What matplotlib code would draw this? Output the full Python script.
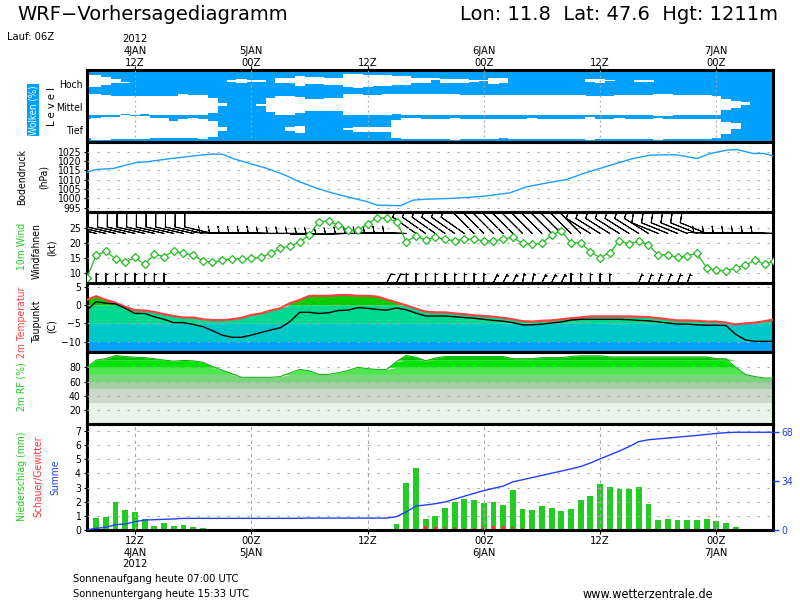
import numpy as np
import matplotlib
matplotlib.use("Agg")
import matplotlib.pyplot as plt
import matplotlib.transforms as mtransforms

plt.rcParams['font.family'] = ['DejaVu Sans']
plt.rcParams['font.stretch'] = 'condensed'

# ---------------- data ----------------
HOURS = list(range(7, 79))          # hours after 4 Jan 2012 00Z

TICK_HOURS = [12, 24, 36, 48, 60, 72]
TOP_LABELS = [["2012", "4JAN", "12Z"], ["5JAN", "00Z"], ["12Z"],
              ["6JAN", "00Z"], ["12Z"], ["7JAN", "00Z"]]
BOTTOM_LABELS = [["12Z", "4JAN", "2012"], ["00Z", "5JAN"], ["12Z"],
                 ["00Z", "6JAN"], ["12Z"], ["00Z", "7JAN"]]

# cloud layers: upper / lower edge of white cloud band (level units 0..3)
CLOUD_LEVELS = ["Tief", "Mittel", "Hoch"]
HOCH_TOP = [2.81, 2.81, 2.70, 2.61, 2.51, None, None, None, None, None,
            None, None, None, None, None, 2.56, 2.61, 2.56, 2.56, None,
            2.66, 2.66, 2.74, 2.70, 2.70, 2.66, 2.66, 2.84, 2.84, 2.81,
            2.77, 2.80, 2.73, 2.73, 2.66, 2.66, 2.66, 2.61, 2.61, 2.61,
            2.56, 2.56, 2.66, 2.66, None, None, None, None, None, None,
            None, None, 2.61, 2.61, 2.59, None, None, 2.59, 2.59, None,
            None, None, None, None, None, None, None, None, None, None,
            None, None]
HOCH_BOT = [2.27, 2.27, 2.39, 2.44, 2.47, None, None, None, None, None,
            None, None, None, None, None, 2.50, 2.47, 2.50, 2.50, None,
            2.44, 2.44, 2.34, 2.41, 2.41, 2.37, 2.37, 2.27, 2.24, 2.27,
            2.34, 2.34, 2.39, 2.39, 2.44, 2.44, 2.56, 2.44, 2.44, 2.44,
            2.49, 2.53, 2.41, 2.44, None, None, None, None, None, None,
            None, None, 2.50, 2.46, 2.53, None, None, 2.50, 2.50, None,
            None, None, None, None, None, None, None, None, None, None,
            None, None]
MITTEL_TOP = [1.99, 1.99, 1.96, 1.93, 1.93, 1.90, 1.90, 1.91, 1.90, 1.93,
              1.99, 1.96, 1.96, 1.81, 1.63, None, None, None, 1.59, 1.81,
              1.91, 1.91, 1.87, 1.77, 1.77, 1.81, 1.84, 1.99, 1.99, 1.96,
              1.96, 1.99, 2.01, 2.01, 1.99, 1.99, 1.99, 1.99, 1.99, 1.96,
              1.96, 1.96, 1.96, 1.96, 1.96, 1.96, 1.96, 1.96, 1.96, 1.96,
              1.96, 1.96, 1.90, 1.91, 1.91, 1.96, 1.96, 1.96, 1.96, 1.99,
              1.99, 1.96, 1.96, 1.96, 1.96, 1.91, 1.77, 1.70, 1.67, None,
              None, None]
MITTEL_BOT = [1.13, 1.10, 1.13, 1.13, 1.16, 1.13, 1.16, 1.13, 1.13, 1.10,
              1.13, 1.10, 1.10, 1.20, 1.49, None, None, None, 1.50, 1.24,
              1.13, 1.13, 1.21, 1.30, 1.30, 1.27, 1.27, 1.13, 1.10, 1.10,
              1.10, 1.10, 1.16, 1.13, 1.13, 1.13, 1.13, 1.13, 1.13, 1.10,
              1.10, 1.10, 1.10, 1.10, 1.10, 1.13, 1.13, 1.13, 1.13, 1.13,
              1.13, 1.13, 1.13, 1.13, 1.13, 1.13, 1.13, 1.13, 1.13, 1.07,
              1.07, 1.13, 1.13, 1.13, 1.13, 1.13, 1.34, 1.39, 1.53, None,
              None, None]
TIEF_TOP = [0.96, 0.99, 1.01, 1.01, 1.10, 1.06, 1.06, 0.99, 0.99, 0.87,
            0.96, 0.99, 0.96, 0.84, 0.59, None, None, None, None, None,
            None, 0.59, 0.67, None, None, None, None, 0.56, 0.59, 0.59,
            0.59, 0.59, 0.91, 0.99, 0.99, 0.96, 0.96, 0.96, 0.99, 0.96,
            0.96, 0.96, 0.94, 0.96, 0.96, 0.96, 0.99, 0.96, 0.96, 0.96,
            0.96, 0.96, 1.01, 0.96, 0.96, 0.99, 0.96, 0.96, 0.96, 0.97,
            0.96, 0.96, 0.96, 0.96, 0.96, 0.94, 0.80, 0.76, None, None,
            None, None]
TIEF_BOT = [0.13, 0.07, 0.07, 0.10, 0.10, 0.10, 0.10, 0.13, 0.16, 0.16,
            0.13, 0.13, 0.10, 0.20, 0.44, None, None, None, None, None,
            None, 0.44, 0.34, None, None, None, None, 0.49, 0.41, 0.41,
            0.41, 0.41, 0.13, 0.10, 0.10, 0.10, 0.10, 0.10, 0.07, 0.10,
            0.10, 0.10, 0.10, 0.13, 0.10, 0.10, 0.10, 0.10, 0.10, 0.10,
            0.10, 0.10, 0.06, 0.10, 0.10, 0.10, 0.10, 0.10, 0.10, 0.07,
            0.10, 0.10, 0.10, 0.10, 0.10, 0.13, 0.30, 0.51, None, None,
            None, None]

# surface pressure (hPa)
P_HOURS = [7, 8, 9.8, 11.1, 12.2, 13.2, 15.3, 17.3, 19.1, 20.1, 21.1, 22.1,
           23.8, 25.6, 27.3, 29.0, 30.8, 32.5, 34.6, 36.0, 37.0, 39.4, 40.7,
           42.1, 44.5, 46.2, 48.0, 50.7, 52.4, 54.2, 56.6, 58.3, 60.0, 61.7,
           63.4, 65.2, 66.9, 67.9, 70.0, 71.4, 73.1, 74.1, 75.8, 76.9, 77.9]
PRESSURE = [1013.9, 1015.5, 1016.1, 1017.9, 1019.3, 1019.6, 1021.1, 1022.3,
            1023.4, 1023.8, 1023.6, 1021.4, 1018.8, 1016.1, 1012.9, 1008.9,
            1005.4, 1002.7, 1000.0, 998.2, 996.4, 996.1, 999.1, 999.6,
            1000.0, 1000.5, 1001.2, 1003.0, 1006.2, 1008.0, 1010.2, 1013.4,
            1016.1, 1018.8, 1021.4, 1023.2, 1023.4, 1023.4, 1021.4, 1024.1,
            1025.9, 1026.2, 1024.1, 1024.1, 1022.7]
P_TICKS = [995, 1000, 1005, 1010, 1015, 1020, 1025]

# 10 m wind speed (kt)
WIND_SPEED = [8.3, 16.1, 17.4, 14.8, 13.7, 15.3, 13.0, 16.3, 15.6, 17.4,
              16.8, 16.1, 14.2, 13.7, 14.4, 14.8, 14.8, 15.0, 15.3, 16.7,
              18.4, 19.1, 20.4, 22.8, 27.2, 27.4, 26.0, 24.4, 24.4, 26.4,
              28.6, 28.3, 27.2, 20.6, 22.4, 21.1, 22.0, 21.3, 20.9, 21.4,
              21.4, 20.8, 20.8, 21.4, 22.0, 20.0, 19.7, 20.0, 22.8, 24.1,
              20.2, 20.2, 17.2, 15.2, 16.9, 20.9, 19.7, 20.8, 19.4, 16.2,
              16.2, 15.3, 15.9, 16.7, 11.9, 11.1, 10.8, 11.9, 12.8, 14.4,
              13.0, 14.1]
W_TICKS = [10, 15, 20, 25]

# wind vanes, upper row (direction wind comes from, deg; barb speed)
BARB_DIR = [283, 283, 283, 283, 283, 283, 283, 283, 283, 283,
            283, 283, 283, 283, 272, 272, 272, 272, 272, 272,
            270, 270, 270, 270, 268, 268, 268, 268, 270, 270,
            270, 272, 272, 272, 305, 305, 305, 305, 305, 305,
            315, 315, 315, 315, 315, 315, 315, 315, 315, 315,
            315, 315, 302, 302, 302, 302, 302, 302, 302, 292,
            292, 292, 292, 292, 292, 272, 272, 272, 272, 272,
            272, 272]
BARB_SPEED = [10, 10, 10, 10, 10, 10, 10, 10, 10, 10,
              10, 10, 10, 10, 5, 5, 5, 5, 5, 5,
              5, 5, 5, 5, 5, 5, 5, 5, 5, 5,
              5, 5, 5, 5, 10, 10, 10, 10, 10, 10,
              10, 10, 10, 10, 10, 10, 10, 10, 10, 10,
              10, 10, 10, 10, 10, 10, 10, 10, 10, 10,
              10, 10, 10, 10, 10, 5, 5, 5, 5, 5,
              5, 5]
# wind vanes, lower row
LOW_BARB_HOURS = [8, 9, 10, 11, 12, 13, 14, 15, 38, 39, 40, 41, 42, 43, 44,
                  45, 46, 47, 48, 49, 50, 51, 52, 53, 54, 55, 56, 57, 58, 59,
                  60, 61, 64, 65, 66, 67, 68, 69]
LOW_BARB_DIR = [0, 0, 0, 0, 0, 0, 0, 0, 25, 25, 0, 0, 0, 0, 0,
                0, 0, 0, 0, 25, 25, 25, 10, 10, 25, 25, 25, 0, 0, 0,
                0, 0, 20, 20, 20, 20, 20, 20]
LOW_BARB_SPEED = [5, 5, 5, 5, 5, 5, 5, 5, 10, 10, 5, 5, 5, 5, 5,
                  5, 5, 5, 5, 5, 5, 5, 5, 5, 5, 5, 5, 5, 5, 5,
                  5, 5, 5, 5, 5, 5, 5, 5]

# 2 m temperature and dew point (C)
TEMP = [1.4, 2.4, 1.4, 0.6, -0.5, -1.4, -1.5, -1.9, -2.5, -3.0,
        -3.4, -3.4, -3.9, -4.1, -4.1, -3.9, -3.5, -2.7, -2.3, -1.5,
        -0.9, 0.5, 1.4, 2.5, 2.5, 2.5, 2.7, 2.7, 2.5, 2.5,
        2.3, 1.5, 0.7, -0.1, -1.0, -1.8, -2.0, -2.0, -2.3, -2.5,
        -2.8, -3.0, -3.2, -3.5, -3.9, -4.4, -4.5, -4.3, -4.2, -3.9,
        -3.6, -3.4, -3.1, -3.1, -3.1, -3.1, -3.1, -3.2, -3.3, -3.6,
        -3.9, -4.2, -4.2, -4.3, -4.5, -4.5, -4.8, -5.3, -5.0, -4.8,
        -4.4, -3.9]
DEWPOINT = [-1.5, 0.9, 0.5, 0.3, -0.9, -2.3, -2.3, -3.2, -3.9, -4.8,
            -4.8, -5.3, -5.9, -7.0, -8.2, -8.8, -8.8, -8.2, -7.5, -6.8,
            -6.2, -4.5, -2.0, -2.0, -2.3, -2.1, -1.5, -1.4, -0.7, -0.9,
            -1.2, -1.4, -0.8, -1.3, -2.2, -3.0, -3.0, -3.0, -3.2, -3.4,
            -3.6, -3.9, -4.2, -4.4, -4.8, -5.4, -5.4, -5.2, -4.9, -4.6,
            -4.1, -3.9, -3.9, -3.9, -3.9, -3.9, -4.0, -4.2, -4.3, -4.6,
            -4.9, -5.2, -5.2, -5.4, -5.5, -5.5, -5.6, -8.0, -9.5, -9.9,
            -9.9, -9.9]
T_TICKS = [-10, -5, 0, 5]
T_BANDS = [(-13, -10, '#00A0FF'), (-10, -5, '#00C8C8'),
           (-5, 0, '#00D890'), (0, 7, '#00CC00')]

# 2 m relative humidity (%)
RH = [80, 90, 92, 96.5, 95, 94, 93.5, 92, 90, 88.5,
      89.5, 89, 87, 81, 76, 71, 66, 66, 66, 66,
      67, 72, 77, 75, 70, 70, 72.5, 75.5, 80, 78,
      77, 77, 88, 96.5, 94, 89, 93, 95, 95, 95,
      95, 95, 95, 95, 92, 92, 92, 93.5, 93.5, 93.5,
      95, 96, 96, 96, 94.5, 94.5, 94.5, 94.5, 94.5, 94.5,
      94.5, 94.5, 94.5, 94.5, 94.5, 92, 92, 80, 70, 67,
      65, 65]
RH_TICKS = [20, 40, 60, 80]
RH_BANDS = [(0, 30, '#EAF5EA'), (30, 50, '#CAD9CA'), (50, 60, '#A6CDA6'),
            (60, 70, '#7AD67A'), (70, 80, '#4FE64F'), (80, 90, '#00E400'),
            (90, 101, '#00C800')]

# precipitation (mm/h), showers (mm/h), accumulated sum (mm)
PRECIP = [0.3, 0.85, 0.92, 2.0, 1.42, 1.28, 0.78, 0.28, 0.5, 0.28,
          0.35, 0.2, 0.12, 0, 0, 0, 0, 0, 0, 0,
          0, 0, 0.1, 0.1, 0, 0, 0, 0, 0, 0,
          0, 0, 0.45, 3.35, 4.39, 0.78, 0.99, 1.56, 1.98, 2.19,
          2.12, 1.91, 1.98, 1.77, 2.83, 1.49, 1.42, 1.70, 1.56, 1.34,
          1.49, 2.12, 2.41, 3.25, 3.04, 2.9, 2.9, 3.04, 1.84, 0.71,
          0.78, 0.71, 0.71, 0.71, 0.78, 0.64, 0.5, 0.2, 0, 0,
          0, 0]
SHOWER = [0, 0, 0, 0, 0, 0, 0, 0, 0, 0,
          0, 0, 0, 0, 0, 0, 0, 0, 0, 0,
          0, 0, 0, 0, 0, 0, 0, 0, 0, 0,
          0, 0, 0, 0, 0, 0.28, 0.2, 0.2, 0.2, 0.14,
          0.14, 0.2, 0.28, 0.28, 0.2, 0.14, 0, 0, 0, 0,
          0, 0, 0, 0, 0.1, 0.1, 0, 0, 0, 0,
          0, 0, 0, 0, 0, 0, 0, 0, 0, 0,
          0, 0]
SUMME = [0, 1.2, 1.9, 3.7, 4.2, 5.8, 6.9, 7.2, 7.4, 7.7,
         8.1, 8.1, 8.1, 8.1, 8.1, 8.1, 8.1, 8.1, 8.1, 8.1,
         8.1, 8.1, 8.2, 8.3, 8.3, 8.3, 8.3, 8.3, 8.3, 8.3,
         8.3, 8.3, 9.3, 12.6, 16.7, 17.4, 18.3, 19.5, 21.5, 23.5,
         25.5, 27.4, 29.0, 30.5, 33.5, 35.0, 36.5, 38.0, 39.5, 41.0,
         42.5, 44.2, 46.6, 49.5, 52.2, 55.0, 58.0, 61.5, 62.8, 63.4,
         64.0, 64.6, 65.2, 65.8, 66.5, 67.2, 67.7, 68.0, 68.0, 68.0,
         68.0, 68.0]
N_TICKS = [0, 1, 2, 3, 4, 5, 6, 7]
SUM_TICKS = [0, 34, 68]

# ---------------- figure ----------------
W_PX, H_PX = 800, 600
fig = plt.figure(figsize=(8, 6), dpi=100)
fig.patch.set_facecolor('white')

X0, X1 = 87, 773
XLIM = (7.05, 77.85)


def panel(top, bot):
    return fig.add_axes([X0 / W_PX, 1 - bot / H_PX, (X1 - X0) / W_PX, (bot - top) / H_PX])


def ftext(xpx, ypx, s, **kw):
    kw.setdefault('ha', 'center')
    kw.setdefault('va', 'center')
    fig.text(xpx / W_PX, 1 - ypx / H_PX, s, **kw)


ax_c = panel(70, 141.5)
ax_p = panel(141.5, 211.5)
ax_w = panel(211.5, 283)
ax_t = panel(283, 352)
ax_r = panel(352, 423.5)
ax_n = panel(423.5, 530)
axes = [ax_c, ax_p, ax_w, ax_t, ax_r, ax_n]

GRID = dict(color='#A8A8A8', linestyle=(0, (2, 7)), linewidth=0.8)
TICKFS = 7.5
for ax in axes:
    ax.set_xlim(*XLIM)
    for sp in ax.spines.values():
        sp.set_linewidth(2.2)
        sp.set_color('black')
    ax.set_axisbelow(False)
    ax.tick_params(axis='y', labelsize=TICKFS, length=2.5, width=0.8, pad=2)
    ax.set_xticks([])

# ---- clouds ----
ax_c.set_facecolor('#00A0FF')
for top, bot in ((HOCH_TOP, HOCH_BOT), (MITTEL_TOP, MITTEL_BOT), (TIEF_TOP, TIEF_BOT)):
    hs = [h for h, t in zip(HOURS, top) if t is not None]
    tt = np.array([t for t in top if t is not None])
    bb = np.array([b for b in bot if b is not None])
    ax_c.bar(hs, tt - bb, bottom=bb, width=1.05, color='white', linewidth=0, zorder=1)
ax_c.set_ylim(0, 3)
ax_c.set_yticks([0.48, 1.45, 2.41])
ax_c.set_yticklabels(CLOUD_LEVELS, fontsize=7.5)
ax_c.tick_params(axis='y', length=0, pad=3)
ax_c.set_xticks(TICK_HOURS)
ax_c.tick_params(axis='x', top=True, bottom=False, labeltop=False, labelbottom=False,
                 direction='out', length=3, width=0.8)
ax_c.grid(axis='x', color='#A8A8A8', linestyle=(0, (1.5, 2.5)), linewidth=0.9)

# ---- pressure ----
ax_p.plot(P_HOURS, PRESSURE, color='#1A9FFF', lw=1.0, zorder=3)
ax_p.set_ylim(993.0, 1030.5)
ax_p.set_yticks(P_TICKS)
ax_p.grid(axis='y', **GRID)

# ---- wind ----
d_up = np.deg2rad(BARB_DIR)
s_up = np.array(BARB_SPEED, dtype=float)
ax_w.barbs(HOURS, [23.3] * len(HOURS), -s_up * np.sin(d_up), -s_up * np.cos(d_up),
           length=6.4, linewidth=0.7, color='black', zorder=2,
           sizes=dict(height=0.45, spacing=0.14, width=0.2))
d_lo = np.deg2rad(LOW_BARB_DIR)
s_lo = np.array(LOW_BARB_SPEED, dtype=float)
ax_w.barbs(LOW_BARB_HOURS, [6.9] * len(LOW_BARB_HOURS), -s_lo * np.sin(d_lo),
           -s_lo * np.cos(d_lo), length=3.7, linewidth=0.7, color='black', zorder=2)
ax_w.plot(HOURS, WIND_SPEED, color='#22BB22', lw=0.9, marker='D', markersize=4.2,
          markerfacecolor='white', markeredgecolor='#22BB22', markeredgewidth=0.9, zorder=4)
ax_w.set_ylim(6.8, 30.6)
ax_w.set_yticks(W_TICKS)
ax_w.grid(axis='y', **GRID)

# ---- temperature ----
T = np.array(TEMP)
for lo, hi, col in T_BANDS:
    ax_t.fill_between(HOURS, lo, np.clip(T, lo, hi), color=col, linewidth=0, zorder=1)
ax_t.plot(HOURS, TEMP, color='#FF4040', lw=1.6, zorder=3)
ax_t.plot(HOURS, DEWPOINT, color='black', lw=1.0, zorder=3)
ax_t.set_ylim(-12.8, 6.0)
ax_t.set_yticks(T_TICKS)
ax_t.grid(axis='y', **GRID)

# ---- relative humidity ----
R = np.array(RH, dtype=float)
for lo, hi, col in RH_BANDS:
    ax_r.fill_between(HOURS, lo, np.clip(R, lo, hi), color=col, linewidth=0, zorder=1)
ax_r.plot(HOURS, RH, color='#1FAF1F', lw=0.8, zorder=3)
ax_r.set_ylim(1.6, 101.3)
ax_r.set_yticks(RH_TICKS)
ax_r.grid(axis='y', **GRID)

# ---- precipitation ----
ax_n.bar(HOURS, PRECIP, width=0.6, color='#22CC22', linewidth=0, zorder=1)
ax_n.bar(HOURS, SHOWER, width=0.28, color='#FF3333', linewidth=0, zorder=1.5)
ax_n.set_ylim(0, 7.53)
ax_n.set_yticks(N_TICKS)
ax_n.set_xticks(TICK_HOURS)
ax_n.tick_params(axis='x', bottom=True, labelbottom=False, direction='out', length=3, width=0.8)
ax_n.grid(axis='y', **GRID)
ax_n.grid(axis='x', color='#A8A8A8', linestyle=(0, (3, 3)), linewidth=0.8)
ax_s = ax_n.twinx()
ax_s.set_xlim(*XLIM)
ax_s.plot(HOURS, SUMME, color='#2040FF', lw=1.0, zorder=3)
ax_s.set_ylim(0, 74.1)
ax_s.set_yticks(SUM_TICKS)
ax_s.tick_params(axis='y', colors='#2040FF', labelsize=TICKFS, length=4, width=1.0, pad=2)
for sp in ax_s.spines.values():
    sp.set_visible(False)

# ---- time labels ----
tr_top = mtransforms.blended_transform_factory(ax_c.transData, fig.transFigure)
for h, lines in zip(TICK_HOURS, TOP_LABELS):
    n = len(lines)
    for i, s in enumerate(lines):
        ypx = 62.5 - (n - 1 - i) * 12
        ax_c.text(h, 1 - ypx / H_PX, s, transform=tr_top, ha='center', va='center', fontsize=8)
tr_bot = mtransforms.blended_transform_factory(ax_n.transData, fig.transFigure)
for h, lines in zip(TICK_HOURS, BOTTOM_LABELS):
    for i, s in enumerate(lines):
        ypx = 541 + i * 11.5
        ax_n.text(h, 1 - ypx / H_PX, s, transform=tr_bot, ha='center', va='center', fontsize=8)

# ---- header / footer ----
ftext(17, 14, 'WRF\u2212Vorhersagediagramm', fontsize=14, ha='left', fontstretch='normal')
ftext(778, 14, 'Lon: 11.8  Lat: 47.6  Hgt: 1211m', fontsize=14, ha='right', fontstretch='normal')
ftext(7, 37, 'Lauf: 06Z', fontsize=8, ha='left')
ftext(73, 579, 'Sonnenaufgang heute 07:00 UTC', fontsize=8, ha='left')
ftext(73, 594, 'Sonnenuntergang heute 15:33 UTC', fontsize=8, ha='left')
ftext(583, 594, 'www.wetterzentrale.de', fontsize=9, ha='left')

# ---- y labels ----
LBL = 7.5
ftext(33, 110, 'Wolken (%)', rotation=90, color='white', fontsize=7,
      bbox=dict(boxstyle='square,pad=0.15', fc='#00A0FF', ec='none'))
ftext(52, 106, 'L e v e l', rotation=90, fontsize=8)
ftext(22, 177, 'Bodendruck', rotation=90, fontsize=LBL)
ftext(44, 177, '(hPa)', rotation=90, fontsize=LBL)
ftext(22, 246, '10m Wind', rotation=90, fontsize=LBL, color='#22CC22')
ftext(37, 251, 'Windfahnen', rotation=90, fontsize=LBL)
ftext(52, 248, '(kt)', rotation=90, fontsize=LBL)
ftext(22, 322, '2m Temperatur', rotation=90, fontsize=LBL, color='#FF4040')
ftext(37, 322, 'Taupunkt', rotation=90, fontsize=LBL)
ftext(52, 326, '(C)', rotation=90, fontsize=LBL)
ftext(22, 387, '2m RF (%)', rotation=90, fontsize=LBL, color='#22CC22')
ftext(22, 476, 'Niederschlag (mm)', rotation=90, fontsize=LBL, color='#22CC22')
ftext(38, 476, 'Schauer/Gewitter', rotation=90, fontsize=LBL, color='#FF3333')
ftext(55, 477, 'Summe', rotation=90, fontsize=LBL, color='#2040FF')

fig.savefig('out.png', dpi=100, facecolor='white')
